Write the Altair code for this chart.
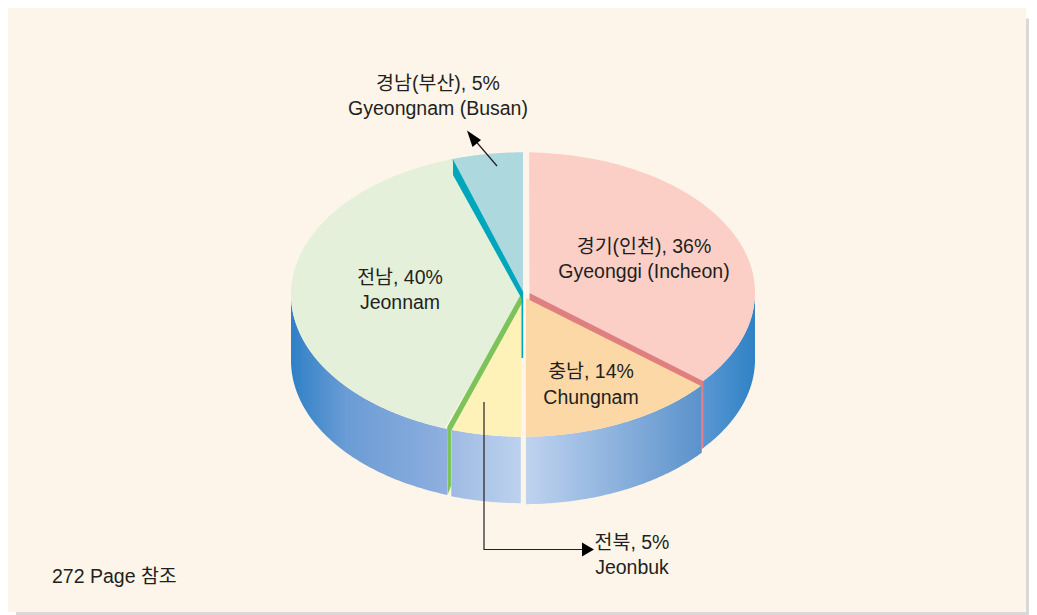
import math
import altair as alt

# ---- values
regions_ko = ["경기(인천), 36%", "충남, 14%", "전북, 5%", "전남, 40%", "경남(부산), 5%"]
regions_en = ["Gyeonggi (Incheon)", "Chungnam", "Jeonbuk", "Jeonnam", "Gyeongnam (Busan)"]
drawn_shares = [35.9, 14.1, 5.2, 39.8, 5.0]
top_colors = ["#fccfc6", "#fbd8a5", "#fef2b9", "#e4f0da", "#acd8de"]
footnote = "272 Page 참조"

# ---- layout (image pixel space)
CX, CY, RX = 523.0, 294.5, 232.0
RY = [140.3, 142.2, 142.2, 142.2, 142.2]
DEPTH = [67, 67.5, 66.5, 66, 0]
OFFSET_Y = [-1.9, 0, 0, 0, 0]
HUB = [(529.5, 293), (526, 298), (521.7, 303), (521, 298), (523, 293)]
TRIM = [(0.42, 0), (0, 0.2), (0.15, 0.1), (0.3, 0), (0, 0)]  # start trim, end trim in share points
FONT = "Liberation Sans, Noto Sans CJK KR"
INK = "#231f20"


def rim(i, a0, a1, n=80):
    pts = []
    for k in range(n + 1):
        t = (a0 + (a1 - a0) * k / n) / 100 * 2 * math.pi
        pts.append((CX + RX * math.sin(t), CY + OFFSET_Y[i] - RY[i] * math.cos(t)))
    return pts


bounds = []
c = 0
for s in drawn_shares:
    bounds.append((c, c + s))
    c += s


def feat(pts, color=None):
    ring = [list(p) for p in pts]
    ring.append(ring[0])
    return {"type": "Feature", "properties": {"color": color},
            "geometry": {"type": "Polygon", "coordinates": [ring]}}


PROJ = alt.Projection(type="identity", scale=1, translate=[-8, -8])


def geo(features, **mark):
    return alt.Chart(alt.Data(values=features)).mark_geoshape(strokeWidth=0, **mark).properties(projection=PROJ)


def flat(features):
    return alt.Chart(alt.Data(values=features)).mark_geoshape(strokeWidth=0).encode(
        fill=alt.Fill("properties.color:N", scale=None)
    ).properties(projection=PROJ)


def grad(stops):
    return {
        "gradient": "linear", "x1": 0, "x2": 1, "y1": 0, "y2": 0,
        "stops": [{"offset": o, "color": col} for o, col in stops],
    }


def wall(i, a0, a1):
    upper = rim(i, a0, a1)
    lower = [(x, y + DEPTH[i]) for x, y in reversed(upper)]
    return feat(upper + lower)


layers = []

# page panel and its shadow (the canvas ends at x = 1029)
layers.append(flat([
    feat([(16, 18.5), (1029, 18.5), (1029, 615), (16, 615)], "#d9d9d9"),
    feat([(0, 7), (1026, 7), (1026, 612), (0, 612)], "#fdf5e9"),
]))

# side walls
layers.append(geo([wall(3, bounds[3][0] + 0.1, 75)], fill=grad([(0, "#2f80c6"), (0.35, "#6a9cd5"), (1, "#8fafdf")])))
layers.append(geo([wall(0, 25, bounds[0][1])], fill=grad([(0, "#5a97d2"), (1, "#2f82c5")])))
layers.append(geo([wall(2, bounds[2][0] + TRIM[2][0], bounds[2][1] - 0.2)],
                  fill=grad([(0, "#9fbae2"), (1, "#bdd2ef")])))
layers.append(geo([wall(1, bounds[1][0] + 0.1, bounds[1][1] - TRIM[1][1])],
                  fill=grad([(0, "#bfd3ef"), (1, "#5b92cc")])))

# top faces
tops = []
for i, (a0, a1) in enumerate(bounds):
    t0, t1 = TRIM[i]
    tops.append(feat([HUB[i]] + rim(i, a0 + t0, a1 - t1), top_colors[i]))
layers.append(flat(tops))

# coloured cut edges
PINK, GREEN, TEAL = "#e07f80", "#7dc35c", "#00a6bc"
layers.append(flat([
    feat([(529.5, 293), (703, 381), (703, 387), (529.5, 300)], PINK),
    feat([(701, 385), (703.4, 381), (703.4, 448), (701, 449.5)], PINK),
    feat([(520, 296), (522, 297), (522, 303), (451, 431), (451, 486), (447.5, 495), (447.2, 427)], GREEN),
    feat([(453, 159.5), (523.2, 292), (523.2, 358), (521.5, 358), (521.5, 298.5), (453, 175)], TEAL),
]))

# annotation arrows
layers.append(alt.Chart(alt.Data(values=[
    {"type": "Feature", "properties": {}, "geometry": {"type": "LineString", "coordinates": [[497, 166], [473, 138]]}},
    {"type": "Feature", "properties": {}, "geometry": {"type": "LineString", "coordinates": [[484, 402], [484, 549.5], [584, 549.5]]}},
])).mark_geoshape(filled=False, stroke=INK, strokeWidth=1.2).properties(projection=PROJ))
layers.append(flat([
    feat([(467, 130.5), (481, 140), (472.5, 147)], "#000000"),
    feat([(594, 549.5), (582, 542.5), (582, 556.5)], "#000000"),
]))

# labels: (region index, centre x, first line y, second line y)
LABELS = [(4, 438, 84, 109), (0, 644, 247, 272), (3, 400, 278, 303), (1, 591, 372, 398), (2, 632, 543, 568)]
FS = 19.5
for idx, x, y1, y2 in LABELS:
    for txt, y in ((regions_ko[idx], y1), (regions_en[idx], y2)):
        layers.append(alt.Chart(alt.Data(values=[{"t": txt}])).mark_text(
            font=FONT, fontSize=FS, color=INK, align="center", baseline="middle",
            x=x - 8, y=y - 8).encode(text="t:N"))
layers.append(alt.Chart(alt.Data(values=[{"t": footnote}])).mark_text(
    font=FONT, fontSize=FS, color=INK, align="left", baseline="middle",
    x=52 - 8, y=577 - 8).encode(text="t:N"))

chart = alt.layer(*layers).properties(
    width=1021, height=607, padding=0, background="#ffffff",
    autosize=alt.AutoSizeParams(type="none"),
).configure_view(stroke=None)

chart.save("out.html", embed_options={"renderer": "svg", "actions": False})
